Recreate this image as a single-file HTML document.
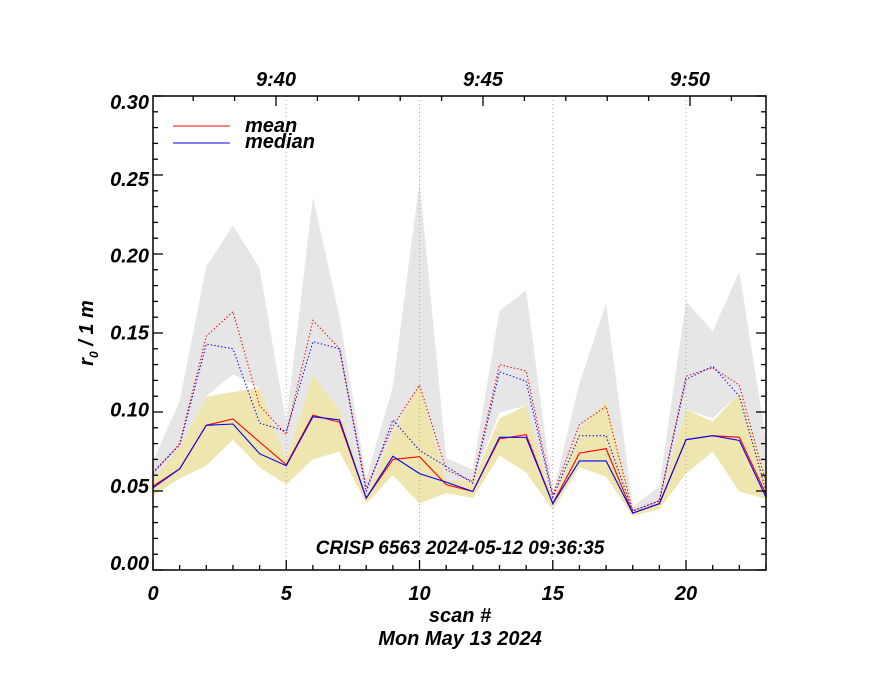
<!DOCTYPE html>
<html><head><meta charset="utf-8"><style>
html,body{margin:0;padding:0;background:#fff}
svg text{font-family:"Liberation Sans",sans-serif;font-weight:bold;font-style:italic}
body{position:relative;width:880px;height:680px;overflow:hidden}#chart{position:absolute;left:0;top:0}
</style></head><body>
<svg id="chart" width="880" height="680" xmlns="http://www.w3.org/2000/svg">
<g id="bands"></g><g id="grid"></g><g id="lines"></g><g id="axes"></g>
</svg>
<script>
const scans=[0,1,2,3,4,5,6,7,8,9,10,11,12,13,14,15,16,17,18,19,20,21,22,23];
const grayUpper=[0.069,0.107,0.192,0.218,0.191,0.093,0.236,0.160,0.058,0.116,0.246,0.071,0.0635,0.164,0.177,0.048,0.118,0.169,0.040,0.053,0.170,0.151,0.189,0.082];
const grayLower=[0.057,0.078,0.110,0.124,0.115,0.070,0.123,0.1015,0.046,0.087,0.117,0.057,0.056,0.0996,0.104,0.043,0.089,0.107,0.037,0.044,0.1015,0.096,0.112,0.060];
const yellowUpper=[0.057,0.078,0.1096,0.1127,0.115,0.070,0.123,0.1015,0.046,0.0867,0.117,0.057,0.056,0.096,0.104,0.043,0.089,0.107,0.037,0.044,0.1015,0.094,0.112,0.060];
const yellowLower=[0.047,0.058,0.066,0.0825,0.065,0.054,0.070,0.075,0.042,0.060,0.042,0.0487,0.0455,0.0725,0.0617,0.038,0.065,0.059,0.034,0.0385,0.061,0.075,0.0497,0.045];
const meanVals=[0.053,0.064,0.0916,0.0956,0.081,0.0666,0.098,0.0935,0.0455,0.070,0.0717,0.054,0.0497,0.083,0.0857,0.042,0.074,0.0768,0.036,0.042,0.0825,0.085,0.084,0.048];
const medianVals=[0.052,0.064,0.0916,0.0924,0.0736,0.066,0.097,0.095,0.0455,0.072,0.061,0.0556,0.0497,0.084,0.084,0.042,0.069,0.069,0.036,0.042,0.0825,0.085,0.082,0.046];
const meanMax=[0.061,0.080,0.148,0.1635,0.104,0.0857,0.158,0.140,0.052,0.091,0.117,0.0635,0.056,0.130,0.126,0.0476,0.092,0.1036,0.0374,0.0438,0.1227,0.128,0.117,0.055];
const medianMax=[0.062,0.079,0.143,0.140,0.093,0.0878,0.1445,0.140,0.0497,0.095,0.0757,0.0656,0.055,0.1254,0.1195,0.046,0.085,0.085,0.0374,0.0438,0.1206,0.129,0.110,0.050];
const yTicks=[0.00,0.05,0.10,0.15,0.20,0.25,0.30];
const xTicks=[0,5,10,15,20];
const timeLabels=["9:40","9:45","9:50"];
const timeMinutes=[40,45,50];

const L=153,R=766,T=96,B=570;
const X=i=>L+(R-L)*i/23;
const Y=v=>B-(B-T)*v/0.30;
const YL=v=>102+(0.30-v)/0.30*461;
const TX=m=>276+(m-40)*41.4;
const NS="http://www.w3.org/2000/svg";
function mk(tag,parent,attrs){const e=document.createElementNS(NS,tag);for(const k in attrs)e.setAttribute(k,attrs[k]);document.getElementById(parent).appendChild(e);return e;}
function band(up,lo,fill,name){
 let pts=scans.map((s,i)=>X(s)+","+Y(up[i]));
 pts=pts.concat(scans.slice().reverse().map((s,j)=>{const i=scans.length-1-j;return X(s)+","+Y(lo[i]);}));
 const p=mk('polygon','bands',{points:pts.join(' '),fill:fill});
 
 
}
band(grayUpper,grayLower,'#e6e6e6','gray-range-band');
band(yellowUpper,yellowLower,'#eee6ae','yellow-range-band');
[5,10,15,20].forEach(s=>{
 const g=mk('line','grid',{x1:X(s),x2:X(s),y1:T,y2:B,stroke:'#aaa','stroke-width':1,'stroke-dasharray':'1,3'});
 
 
});
function line(vals,color,dash,name){
 const p=mk('polyline','lines',{points:scans.map((s,i)=>X(s)+","+Y(vals[i])).join(' '),fill:'none',stroke:color,'stroke-width':1.1});
 if(dash)p.setAttribute('stroke-dasharray','1.3,2.2');
 
 
}
line(meanMax,'#f00',true,'mean-dotted-line');
line(medianMax,'#00f',true,'median-dotted-line');
line(meanVals,'#f00',false,'mean-line');
line(medianVals,'#00f',false,'median-line');
const fr=mk('rect','axes',{x:L,y:T,width:R-L,height:B-T,fill:'none',stroke:'#000','stroke-width':1.5});


for(let k=0;k<=30;k++){const v=k/100,len=(k%5===0)?10:5,y=Y(v);
 mk('line','axes',{x1:L,x2:L+len,y1:y,y2:y,stroke:'#000','stroke-width':1.3});
 mk('line','axes',{x1:R,x2:R-len,y1:y,y2:y,stroke:'#000','stroke-width':1.3});}
yTicks.forEach(v=>{const t=mk('text','axes',{x:L-4,y:YL(v)+7,'text-anchor':'end','font-size':20,transform:'scale(1,1)'});t.textContent=v.toFixed(2);
 
 });
for(let s=0;s<=23;s++){const len=(s%5===0)?10:5;mk('line','axes',{x1:X(s),x2:X(s),y1:B,y2:B-len,stroke:'#000','stroke-width':1.3});}
xTicks.forEach(s=>{const t=mk('text','axes',{x:X(s),y:600,'text-anchor':'middle','font-size':20});t.textContent=s;
 
 });
for(let m=37;m<=52;m++){const x=TX(m);if(x<L||x>R)continue;const len=(m%5===0)?10:5;mk('line','axes',{x1:x,x2:x,y1:T,y2:T+len,stroke:'#000','stroke-width':1.3});}
timeLabels.forEach((lb,i)=>{const t=mk('text','axes',{x:TX(timeMinutes[i]),y:86,'text-anchor':'middle','font-size':20});t.textContent=lb;
 
 });
</script>
<svg width="880" height="680" style="position:absolute;left:0;top:0" xmlns="http://www.w3.org/2000/svg">
<g>
<line x1="173" y1="126" x2="230" y2="126" stroke="#f00" stroke-width="1"/>
<line x1="173" y1="143" x2="230" y2="143" stroke="#00f" stroke-width="1"/>
<text x="245" y="132" font-size="20">mean</text>
<text x="245" y="148" font-size="20">median</text>
</g>
<text x="460" y="554" text-anchor="middle" font-size="19">CRISP 6563 2024-05-12 09:36:35</text>
<text x="460" y="622" text-anchor="middle" font-size="20">scan #</text>
<text x="460" y="645" text-anchor="middle" font-size="20">Mon May 13 2024</text>
<text transform="translate(93,333) rotate(-90)" text-anchor="middle" font-size="20">r<tspan font-size="12" dy="5">0</tspan><tspan dy="-5"> / 1 m</tspan></text>
</svg>
</body></html>
